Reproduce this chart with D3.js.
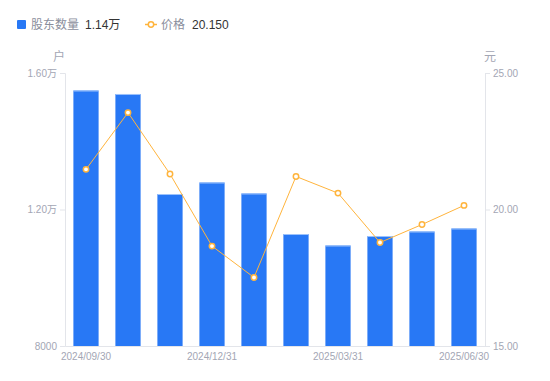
<!DOCTYPE html>
<html>
<head>
<meta charset="utf-8">
<script src="https://cdn.jsdelivr.net/npm/d3@7/dist/d3.min.js"></script>
<style>
  body { margin: 0; background: #fff; }
  text { font-family: "Liberation Sans", Arial, "Noto Sans CJK SC", sans-serif; }
</style>
</head>
<body>
<div id="chart"></div>
<script>
// Data
const dates = ["2024/09/30", "2024/10/31", "2024/11/29", "2024/12/31", "2025/01/24",
               "2025/02/28", "2025/03/31", "2025/04/30", "2025/05/30", "2025/06/30"];
const holders = [15487, 15385, 12454, 12791, 12469, 11282, 10945, 11223, 11355, 11443];
const prices = [21.47, 23.55, 21.30, 18.66, 17.51, 21.21, 20.60, 18.79, 19.45, 20.15];
const leftTicks = [8000, 12000, 16000];
const rightTicks = [15, 20, 25];
const shownDates = ["2024/09/30", "2024/12/31", "2025/03/31", "2025/06/30"];

const width = 550, height = 381;
const margin = { top: 73, right: 65, bottom: 35, left: 65 };
const barColor = "#2878f5";
const lineColor = "#ffb43c";
const axisColor = "#e3e5ea";
const labelColor = "#a3a6b4";

const svg = d3.select("#chart").append("svg")
    .attr("width", width)
    .attr("height", height);

const x = d3.scaleBand()
    .domain(dates)
    .range([margin.left, width - margin.right])
    .paddingInner(0.4)
    .paddingOuter(0.2);

const yL = d3.scaleLinear().domain([8000, 16000]).range([height - margin.bottom, margin.top]);
const yR = d3.scaleLinear().domain([15, 25]).range([height - margin.bottom, margin.top]);

const fmtLeft = v => v >= 10000 ? (v / 10000).toFixed(2) + "万" : String(v);

// Left axis
const gL = svg.append("g")
    .attr("transform", `translate(${margin.left},0)`)
    .call(d3.axisLeft(yL).tickValues(leftTicks).tickFormat(fmtLeft).tickSize(5).tickPadding(3));
gL.select(".domain").attr("stroke", axisColor);
gL.selectAll(".tick line").attr("stroke", axisColor);
gL.selectAll(".tick text").attr("fill", labelColor).attr("font-size", 10);

// Right axis
const gR = svg.append("g")
    .attr("transform", `translate(${width - margin.right},0)`)
    .call(d3.axisRight(yR).tickValues(rightTicks).tickFormat(d3.format(".2f")).tickSize(5).tickPadding(3));
gR.select(".domain").attr("stroke", axisColor);
gR.selectAll(".tick line").attr("stroke", axisColor);
gR.selectAll(".tick text").attr("fill", labelColor).attr("font-size", 10);

// Bottom axis
const gB = svg.append("g")
    .attr("transform", `translate(0,${height - margin.bottom})`)
    .call(d3.axisBottom(x).tickValues(shownDates).tickSize(0).tickPadding(7));
gB.select(".domain").attr("stroke", axisColor);
gB.selectAll(".tick text").attr("fill", labelColor).attr("font-size", 10);

// Unit labels
svg.append("text").attr("x", margin.left - 6).attr("y", 61)
    .attr("text-anchor", "middle").attr("font-size", 12).attr("fill", labelColor).text("户");
svg.append("text").attr("x", width - margin.right + 5).attr("y", 61)
    .attr("text-anchor", "middle").attr("font-size", 12).attr("fill", labelColor).text("元");

// Bars
const bars = svg.append("g");
bars.selectAll("rect")
    .data(dates)
    .enter().append("rect")
    .attr("x", d => x(d))
    .attr("y", (d, i) => yL(holders[i]))
    .attr("width", x.bandwidth())
    .attr("height", (d, i) => yL(8000) - yL(holders[i]))
    .attr("fill", barColor);
bars.selectAll("line")
    .data(dates)
    .enter().append("line")
    .attr("x1", d => x(d))
    .attr("x2", d => x(d) + x.bandwidth())
    .attr("y1", (d, i) => yL(holders[i]) + 0.5)
    .attr("y2", (d, i) => yL(holders[i]) + 0.5)
    .attr("stroke", "#9cc2fb")
    .attr("stroke-width", 1);

// Price line
const cx = d => x(d) + x.bandwidth() / 2;
const line = d3.line()
    .x(d => cx(d))
    .y((d, i) => yR(prices[i]));
svg.append("path")
    .datum(dates)
    .attr("d", line)
    .attr("fill", "none")
    .attr("stroke", lineColor)
    .attr("stroke-width", 1);
svg.append("g").selectAll("circle")
    .data(dates)
    .enter().append("circle")
    .attr("cx", d => cx(d))
    .attr("cy", (d, i) => yR(prices[i]))
    .attr("r", 2.7)
    .attr("fill", "#fff")
    .attr("stroke", lineColor)
    .attr("stroke-width", 1.5);

// Legend
const legend = svg.append("g");
legend.append("rect").attr("x", 17).attr("y", 20).attr("width", 9).attr("height", 9)
    .attr("rx", 1).attr("fill", barColor);
legend.append("text").attr("x", 31).attr("y", 29).attr("font-size", 12)
    .attr("fill", "#8a8e9c").text("股东数量");
legend.append("text").attr("x", 85).attr("y", 29).attr("font-size", 12)
    .attr("fill", "#333").text((holders[holders.length - 1] / 10000).toFixed(2) + "万");
legend.append("line").attr("x1", 145).attr("x2", 157).attr("y1", 24.5).attr("y2", 24.5)
    .attr("stroke", lineColor).attr("stroke-width", 1.5);
legend.append("circle").attr("cx", 151).attr("cy", 24.5).attr("r", 2.7)
    .attr("fill", "#fff").attr("stroke", lineColor).attr("stroke-width", 1.5);
legend.append("text").attr("x", 161).attr("y", 29).attr("font-size", 12)
    .attr("fill", "#8a8e9c").text("价格");
legend.append("text").attr("x", 192).attr("y", 29).attr("font-size", 12)
    .attr("fill", "#333").text(prices[prices.length - 1].toFixed(3));
</script>
</body>
</html>
